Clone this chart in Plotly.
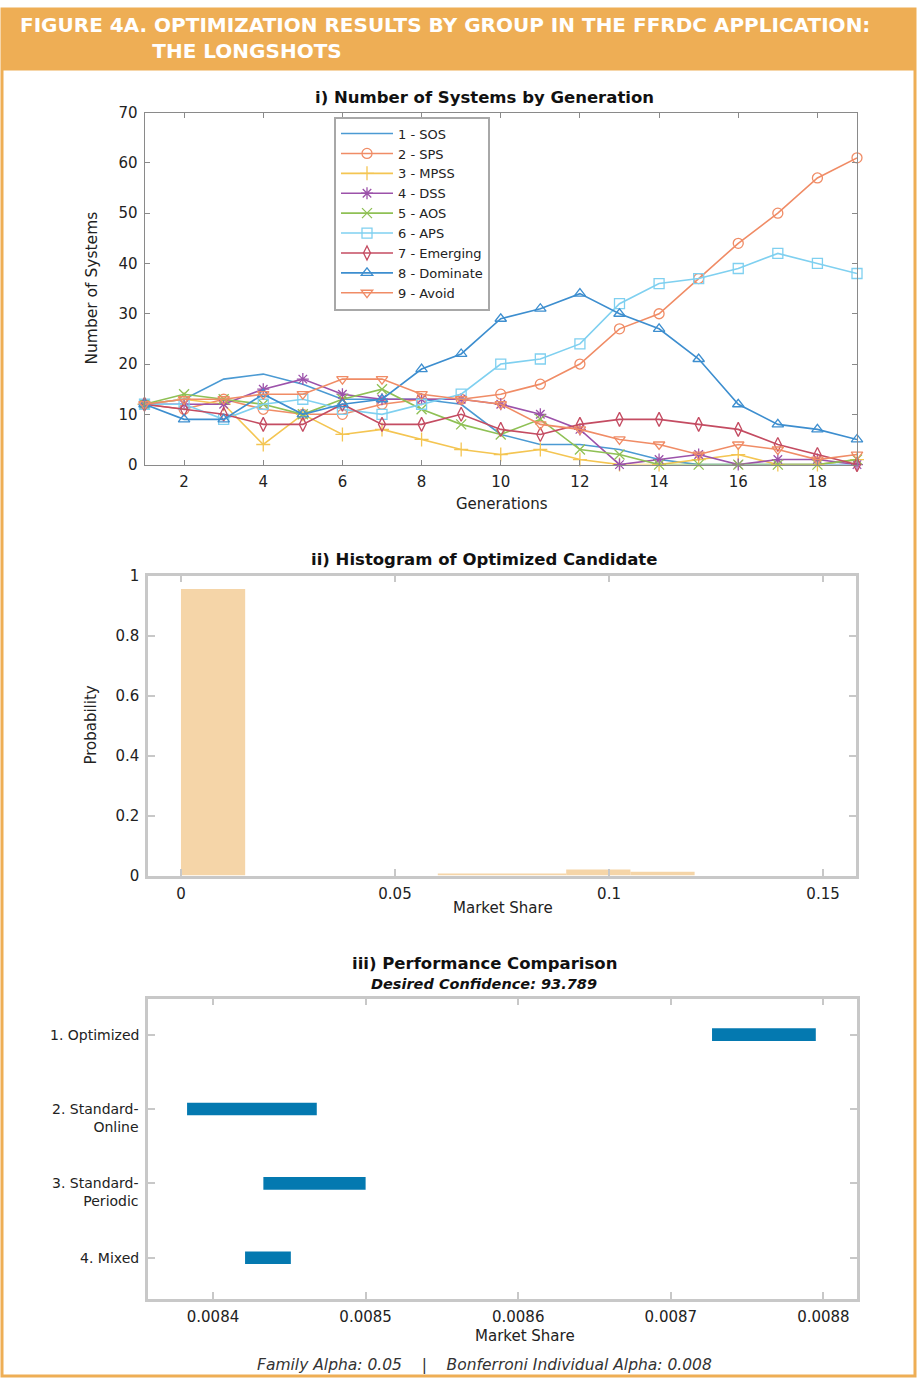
import plotly.graph_objects as go

W, H = 917, 1385

# ---------------- data ----------------
generations = list(range(1, 20))
series_names = ["1 - SOS", "2 - SPS", "3 - MPSS", "4 - DSS", "5 - AOS",
                "6 - APS", "7 - Emerging", "8 - Dominate", "9 - Avoid"]
sos      = [12, 13, 17, 18, 16, 13, 13, 13, 12, 6, 4, 4, 3, 1, 0, 0, 0, 0, 0]
sps      = [12, 11, 13, 11, 10, 10, 12, 13, 13, 14, 16, 20, 27, 30, 37, 44, 50, 57, 61]
mpss     = [12, 13, 12, 4, 10, 6, 7, 5, 3, 2, 3, 1, 0, 0, 1, 2, 0, 0, 1]
dss      = [12, 12, 12, 15, 17, 14, 13, 13, 13, 12, 10, 7, 0, 1, 2, 0, 1, 1, 0]
aos      = [12, 14, 13, 12, 10, 13, 15, 11, 8, 6, 9, 3, 2, 0, 0, 0, 0, 0, 1]
aps      = [12, 12, 9, 12, 13, 11, 10, 12, 14, 20, 21, 24, 32, 36, 37, 39, 42, 40, 38]
emerging = [12, 11, 10, 8, 8, 12, 8, 8, 10, 7, 6, 8, 9, 9, 8, 7, 4, 2, 0]
dominate = [12, 9, 9, 14, 10, 12, 13, 19, 22, 29, 31, 34, 30, 27, 21, 12, 8, 7, 5]
avoid    = [12, 13, 13, 14, 14, 17, 17, 14, 13, 12, 8, 7, 5, 4, 2, 4, 3, 1, 2]
series_values = [sos, sps, mpss, dss, aos, aps, emerging, dominate, avoid]

hist_bin_centers = [0.0075, 0.0675, 0.0825, 0.0975, 0.1125]
hist_probability = [0.955, 0.006, 0.006, 0.02, 0.013]
hist_bin_width = 0.015

perf_labels = ["1. Optimized", "2. Standard-<br>Online", "3. Standard-<br>Periodic", "4. Mixed"]
perf_positions = [1, 2, 3, 4]
perf_low  = [0.008727, 0.008383, 0.008433, 0.008421]
perf_high = [0.008795, 0.008468, 0.008500, 0.008451]

gen_ticks = [2, 4, 6, 8, 10, 12, 14, 16, 18]
sys_ticks = [0, 10, 20, 30, 40, 50, 60, 70]
hist_x_ticks = [0, 0.05, 0.1, 0.15]
hist_x_ticktext = ["0", "0.05", "0.1", "0.15"]
hist_y_ticks = [0, 0.2, 0.4, 0.6, 0.8, 1]
hist_y_ticktext = ["0", "0.2", "0.4", "0.6", "0.8", "1"]
perf_x_ticks = [0.0084, 0.0085, 0.0086, 0.0087, 0.0088]
perf_x_ticktext = ["0.0084", "0.0085", "0.0086", "0.0087", "0.0088"]

# ---------------- styles ----------------
colors = ["#4b9ad3", "#f08c66", "#f4c552", "#9c52aa", "#8fc055",
          "#7fd0f0", "#c44c62", "#3d8ecf", "#f08c66"]
symbols = [None, "circle-open", "cross-thin-open", "asterisk-open", "x-thin-open",
           "square-open", "diamond-tall-open", "triangle-up-open", "triangle-down-open"]

FONT = "DejaVu Sans"


def px_x(p):
    return p / W


def px_y(t):
    # vertical placement, corrected for the observed capture offset/scale
    p = (t - 8.4) / 0.987
    p = min(max(p, 0), H)
    return 1 - p / H


fig = go.Figure()

for name, vals, col, sym in zip(series_names, series_values, colors, symbols):
    if sym is None:
        fig.add_trace(go.Scatter(x=generations, y=vals, name=name, mode="lines",
                                 line=dict(color=col, width=1.6), cliponaxis=False,
                                 xaxis="x", yaxis="y"))
    else:
        fig.add_trace(go.Scatter(x=generations, y=vals, name=name, mode="lines+markers",
                                 line=dict(color=col, width=1.6),
                                 marker=dict(symbol=sym, size=10, color=col,
                                             line=dict(color=col, width=1.3)),
                                 cliponaxis=False, xaxis="x", yaxis="y"))

fig.add_trace(go.Bar(x=hist_bin_centers, y=hist_probability, width=hist_bin_width,
                     marker=dict(color="#f5d5a8", line=dict(width=0)),
                     showlegend=False, xaxis="x2", yaxis="y2"))

fig.add_trace(go.Bar(y=perf_positions,
                     x=[h - l for l, h in zip(perf_low, perf_high)],
                     base=perf_low, orientation="h", width=0.17,
                     marker=dict(color="#0479b0", line=dict(width=0)),
                     showlegend=False, xaxis="x3", yaxis="y3"))

tickfont = dict(family=FONT, size=15, color="#222")
thin = dict(showline=True, linecolor="#8a8a8a", linewidth=1, mirror="ticks",
            ticks="inside", ticklen=5, tickcolor="#8a8a8a", tickwidth=1,
            showgrid=False, zeroline=False, tickfont=tickfont, ticklabelstandoff=3)
thick = dict(showline=True, linecolor="#c8c8c8", linewidth=2.5, mirror="ticks",
             ticks="inside", ticklen=7, tickcolor="#c8c8c8", tickwidth=2,
             showgrid=False, zeroline=False, tickfont=tickfont, ticklabelstandoff=3)

fig.update_layout(
    width=W, height=H, autosize=False,
    margin=dict(l=0, r=0, t=0, b=0, pad=0),
    paper_bgcolor="white", plot_bgcolor="white",
    font=dict(family=FONT, size=14, color="#222"),
    barmode="overlay",
    xaxis=dict(domain=[px_x(144.5), px_x(857)], anchor="y", range=[1, 19],
               tickvals=gen_ticks, **thin),
    yaxis=dict(domain=[px_y(464), px_y(112)], anchor="x", range=[0, 70],
               tickvals=sys_ticks, **thin),
    xaxis2=dict(domain=[px_x(148), px_x(856)], anchor="y2", range=[-0.0077, 0.1577],
                tickvals=hist_x_ticks, ticktext=hist_x_ticktext, **thick),
    yaxis2=dict(domain=[px_y(875), px_y(575)], anchor="x2", range=[0, 1],
                tickvals=hist_y_ticks, ticktext=hist_y_ticktext, **thick),
    xaxis3=dict(domain=[px_x(148), px_x(857)], anchor="y3", range=[0.0083574, 0.008822],
                tickvals=perf_x_ticks, ticktext=perf_x_ticktext, **thick),
    yaxis3=dict(domain=[px_y(1298), px_y(998)], anchor="x3", range=[4.55, 0.515],
                tickvals=perf_positions, showticklabels=False, **thick),
    legend=dict(x=px_x(334), y=px_y(116), xanchor="left", yanchor="top",
                bgcolor="white", bordercolor="#a8a8a8", borderwidth=2,
                font=dict(family=FONT, size=13, color="#222"),
                itemwidth=52, tracegroupgap=0),
)

shapes = [
    dict(type="rect", xref="paper", yref="paper", x0=px_x(2), x1=px_x(915),
         y0=px_y(1383), y1=px_y(3), line=dict(color="#eeae55", width=3),
         fillcolor="rgba(0,0,0,0)", layer="below"),
    dict(type="rect", xref="paper", yref="paper", x0=px_x(2), x1=px_x(915),
         y0=px_y(70), y1=px_y(3), line=dict(width=0), fillcolor="#eeae55",
         layer="below"),
]
fig.update_layout(shapes=shapes)

ann = []
indent = "&nbsp;" * 19
ann.append(dict(text="<b>FIGURE 4A. OPTIMIZATION RESULTS BY GROUP IN THE FFRDC APPLICATION:<br>"
                     + indent + "THE LONGSHOTS</b>",
                x=px_x(18), y=px_y(37), xanchor="left", yanchor="middle", align="left",
                font=dict(family=FONT, size=20, color="white")))
title_font = dict(family=FONT, size=16.5, color="#111")
ann.append(dict(text="<b>i) Number of Systems by Generation</b>", x=px_x(484), y=px_y(97),
                xanchor="center", yanchor="middle", font=title_font))
ann.append(dict(text="<b>ii) Histogram of Optimized Candidate</b>", x=px_x(484), y=px_y(559),
                xanchor="center", yanchor="middle", font=title_font))
ann.append(dict(text="<b>iii) Performance Comparison</b>", x=px_x(484), y=px_y(963),
                xanchor="center", yanchor="middle", font=title_font))
ann.append(dict(text="<b><i>Desired Confidence: 93.789</i></b>", x=px_x(484), y=px_y(983),
                xanchor="center", yanchor="middle",
                font=dict(family=FONT, size=14.5, color="#111")))
axis_font = dict(family=FONT, size=15, color="#222")
ann.append(dict(text="Number of Systems", x=px_x(92), y=px_y(288), textangle=-90,
                xanchor="center", yanchor="middle", font=dict(family=FONT, size=15.5, color="#222")))
ann.append(dict(text="Generations", x=px_x(502), y=px_y(503),
                xanchor="center", yanchor="middle", font=axis_font))
ann.append(dict(text="Probability", x=px_x(91), y=px_y(725), textangle=-90,
                xanchor="center", yanchor="middle", font=axis_font))
ann.append(dict(text="Market Share", x=px_x(503), y=px_y(907),
                xanchor="center", yanchor="middle", font=axis_font))
ann.append(dict(text="Market Share", x=px_x(525), y=px_y(1335),
                xanchor="center", yanchor="middle", font=axis_font))
for lab, pos in zip(perf_labels, perf_positions):
    ann.append(dict(text=lab, xref="paper", yref="y3", x=px_x(141), y=pos,
                    xanchor="right", yanchor="top", yshift=10, align="right",
                    font=dict(family=FONT, size=14, color="#222")))
ann.append(dict(text="<i>Family Alpha: 0.05    |    Bonferroni Individual Alpha: 0.008</i>",
                x=px_x(484), y=px_y(1364), xanchor="center", yanchor="middle",
                font=dict(family=FONT, size=15.5, color="#333")))
for a in ann:
    a.setdefault("xref", "paper")
    a.setdefault("yref", "paper")
    a["showarrow"] = False
fig.update_layout(annotations=ann)

post = ("document.documentElement.style.margin='0';"
        "document.body.style.margin='0';document.body.style.padding='0';"
        "document.body.style.overflow='hidden';"
        "var gd=document.getElementById('{plot_id}');"
        "gd.style.position='fixed';gd.style.top='0px';gd.style.left='0px';")

fig.write_html("out.html", config={"displayModeBar": False}, post_script=post)
